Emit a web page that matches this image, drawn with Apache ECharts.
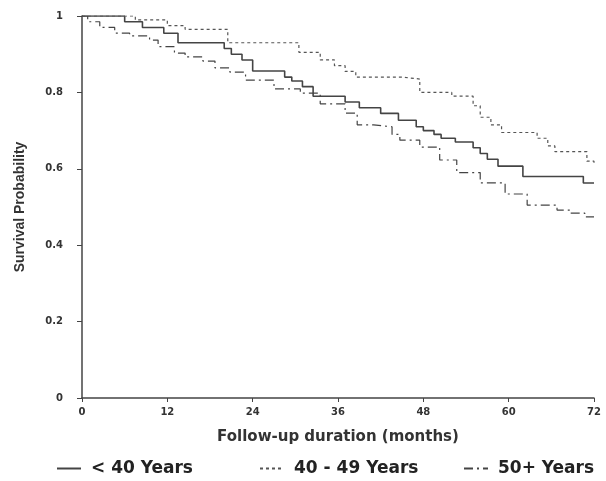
<!DOCTYPE html>
<html>
<head>
<meta charset="utf-8">
<script src="https://cdn.jsdelivr.net/npm/echarts@6/dist/echarts.min.js"></script>
<style>
  html, body { margin: 0; padding: 0; background: #fff; }
  #main { width: 606px; height: 481px; }
</style>
</head>
<body>
<div id="main"></div>
<script>
// step points: month where a step starts, survival from there on
var under40Months = [0, 6, 8.5, 11.5, 13.5, 20, 21, 22.5, 24, 28.5, 29.5, 31, 32.5, 37, 39, 42, 44.5, 47, 48, 49.5, 50.5, 52.5, 55, 56, 57, 58.5, 62, 70.5, 72];
var under40Surv   = [1, 0.985, 0.97, 0.955, 0.93, 0.915, 0.9, 0.885, 0.856, 0.84, 0.83, 0.815, 0.79, 0.775, 0.76, 0.745, 0.727, 0.71, 0.7, 0.69, 0.68, 0.67, 0.655, 0.64, 0.625, 0.607, 0.58, 0.563, 0.563];

var mid40Months = [0, 7.5, 12, 14.5, 20.5, 30.5, 33.5, 35.5, 37, 38.5, 45, 47.5, 52, 55, 56, 57.5, 59, 64, 65.5, 66.5, 71, 72];
var mid40Surv   = [1, 0.99, 0.975, 0.965, 0.93, 0.905, 0.885, 0.87, 0.855, 0.84, 0.835, 0.8, 0.79, 0.765, 0.735, 0.715, 0.695, 0.68, 0.66, 0.645, 0.62, 0.61];

var over50Months = [0, 0.8, 2.5, 4.6, 6.7, 9.5, 10.7, 13, 14.5, 17, 18.7, 20.8, 23, 27, 30.7, 33.5, 37, 38.7, 41, 43.6, 44.7, 47.5, 50.3, 52.7, 56, 59.5, 62.6, 66.8, 68.6, 70.7, 72];
var over50Surv   = [1, 0.985, 0.97, 0.955, 0.948, 0.937, 0.92, 0.903, 0.893, 0.882, 0.864, 0.853, 0.832, 0.809, 0.798, 0.77, 0.746, 0.715, 0.71, 0.69, 0.675, 0.657, 0.623, 0.59, 0.563, 0.534, 0.505, 0.492, 0.484, 0.474, 0.474];

var groupNames = ['< 40 Years', '40 - 49 Years', '50+ Years'];
var monthTicks = [0, 12, 24, 36, 48, 60, 72];

var boldFont = 'DejaVu Sans';

function pairs(xs, ys) {
    var out = [];
    for (var i = 0; i < xs.length; i++) {
        out.push([xs[i], ys[i]]);
    }
    return out;
}

// one legend per group so each entry can sit where it is in the picture
function legendAt(name, left) {
    return {
        data: [name],
        top: 455,
        left: left,
        itemWidth: 24,
        itemHeight: 12,
        itemStyle: { opacity: 0 },
        textStyle: {
            fontFamily: boldFont, fontWeight: 'bold', fontSize: 17, color: '#222',
            padding: [0, 0, 0, 5]
        }
    };
}

var myChart = echarts.init(document.getElementById('main'));

var option = {
    backgroundColor: '#fff',
    animation: false,
    grid: { left: 82, right: 12, top: 16, bottom: 83 },
    legend: [
        legendAt(groupNames[0], 51),
        legendAt(groupNames[1], 254),
        legendAt(groupNames[2], 458)
    ],
    xAxis: {
        type: 'value',
        min: 0,
        max: 72,
        interval: 12,
        name: 'Follow-up duration (months)',
        nameLocation: 'middle',
        nameGap: 32,
        nameTextStyle: { fontFamily: boldFont, fontWeight: 'bold', fontSize: 15, color: '#333' },
        axisLine: { lineStyle: { color: '#444', width: 1.5 } },
        axisTick: { show: true, length: 4, lineStyle: { color: '#444' } },
        axisLabel: {
            fontFamily: boldFont, fontWeight: 'bold', fontSize: 10, color: '#333', margin: 9,
            formatter: function (v) { return monthTicks.indexOf(v) >= 0 ? String(v) : ''; }
        },
        splitLine: { show: false }
    },
    yAxis: {
        type: 'value',
        min: 0,
        max: 1,
        interval: 0.2,
        name: 'Survival Probability',
        nameLocation: 'middle',
        nameGap: 55,
        nameTextStyle: { fontFamily: 'Liberation Sans', fontWeight: 'bold', fontSize: 14, color: '#333' },
        axisLine: { show: true, lineStyle: { color: '#444', width: 1.5 } },
        axisTick: { show: true, length: 5, lineStyle: { color: '#444' } },
        axisLabel: {
            fontFamily: boldFont, fontWeight: 'bold', fontSize: 10, color: '#333', margin: 19,
            formatter: function (v) { return v === 0 || v === 1 ? String(v) : v.toFixed(1); }
        },
        splitLine: { show: false }
    },
    series: [
        {
            name: groupNames[0],
            type: 'line',
            step: 'end',
            symbol: 'none',
            data: pairs(under40Months, under40Surv),
            lineStyle: { color: '#444', width: 1.6, type: 'solid' },
            itemStyle: { color: '#444' }
        },
        {
            name: groupNames[1],
            type: 'line',
            step: 'end',
            symbol: 'none',
            data: pairs(mid40Months, mid40Surv),
            lineStyle: { color: '#555', width: 1.2, type: [3, 3] },
            itemStyle: { color: '#555' }
        },
        {
            name: groupNames[2],
            type: 'line',
            step: 'end',
            symbol: 'none',
            data: pairs(over50Months, over50Surv),
            lineStyle: { color: '#444', width: 1.2, type: [9, 4, 2, 4] },
            itemStyle: { color: '#444' }
        }
    ]
};
myChart.setOption(option);
</script>
</body>
</html>
